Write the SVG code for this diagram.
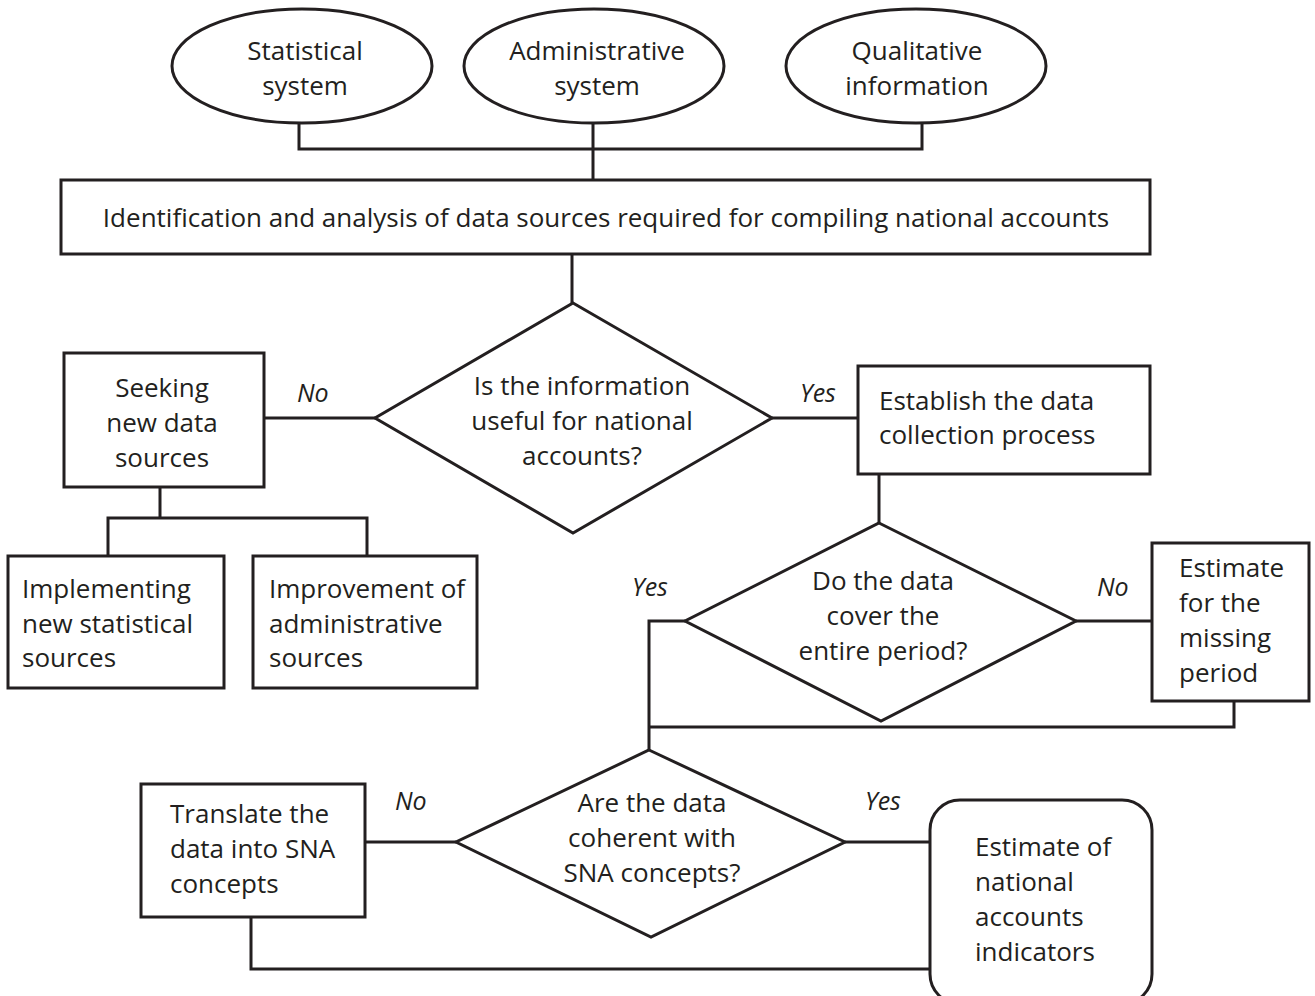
<svg xmlns="http://www.w3.org/2000/svg" width="1315" height="996" viewBox="0 0 1315 996">
<style>
.s{fill:#fff;stroke:#231f20;stroke-width:3}
.c{fill:none;stroke:#231f20;stroke-width:3}
text{font-family:"Open Sans","Liberation Sans",Arial,sans-serif;font-size:26px;fill:#231f20}
.m{text-anchor:middle}
.i{font-style:italic;font-size:25px}
</style>
<rect width="1315" height="996" fill="#fff"/>
<g id="connectors">
<polyline class="c" points="299,123 299,149 922,149 922,123"/>
<line class="c" x1="593" y1="123" x2="593" y2="180"/>
<line class="c" x1="572" y1="254" x2="572" y2="303"/>
<line class="c" x1="264" y1="418" x2="375" y2="418"/>
<line class="c" x1="772" y1="418" x2="858" y2="418"/>
<polyline class="c" points="160,487 160,518"/>
<polyline class="c" points="108,556 108,518 367,518 367,556"/>
<line class="c" x1="879" y1="474" x2="879" y2="523"/>
<line class="c" x1="1076" y1="621" x2="1152" y2="621"/>
<polyline class="c" points="685,621 649,621 649,750"/>
<polyline class="c" points="1234,701 1234,727 649,727"/>
<line class="c" x1="365" y1="842" x2="456" y2="842"/>
<line class="c" x1="845" y1="842" x2="930" y2="842"/>
<polyline class="c" points="251,917 251,969 930,969"/>
</g>
<g id="n-statistical">
<ellipse class="s" cx="302" cy="66" rx="130" ry="57"/>
<text class="m" x="305" y="60">Statistical</text>
<text class="m" x="305" y="95">system</text>
</g>
<g id="n-administrative">
<ellipse class="s" cx="594" cy="66" rx="130" ry="57"/>
<text class="m" x="597" y="60">Administrative</text>
<text class="m" x="597" y="95">system</text>
</g>
<g id="n-qualitative">
<ellipse class="s" cx="916" cy="66" rx="130" ry="57"/>
<text class="m" x="917" y="60">Qualitative</text>
<text class="m" x="917" y="95">information</text>
</g>
<g id="n-identification">
<rect class="s" x="61" y="180" width="1089" height="74"/>
<text class="m" x="606" y="227">Identification and analysis of data sources required for compiling national accounts</text>
</g>
<g id="n-useful">
<polygon class="s" points="573,303 772,418 573,533 375,418"/>
<text class="m" x="582" y="395">Is the information</text>
<text class="m" x="582" y="430">useful for national</text>
<text class="m" x="582" y="465">accounts?</text>
</g>
<g id="n-seeking">
<rect class="s" x="64" y="353" width="200" height="134"/>
<text class="m" x="162" y="397">Seeking</text>
<text class="m" x="162" y="432">new data</text>
<text class="m" x="162" y="467">sources</text>
</g>
<text class="i" x="297" y="402">No</text>
<text class="i" x="800" y="402">Yes</text>
<g id="n-implementing">
<rect class="s" x="8" y="556" width="216" height="132"/>
<text x="22" y="598">Implementing</text>
<text x="22" y="633">new statistical</text>
<text x="22" y="667">sources</text>
</g>
<g id="n-improvement">
<rect class="s" x="253" y="556" width="224" height="132"/>
<text x="269" y="598">Improvement of</text>
<text x="269" y="633">administrative</text>
<text x="269" y="667">sources</text>
</g>
<g id="n-establish">
<rect class="s" x="858" y="366" width="292" height="108"/>
<text x="879" y="410">Establish the data</text>
<text x="879" y="444">collection process</text>
</g>
<g id="n-cover">
<polygon class="s" points="879,523 1076,621 881,721 685,621"/>
<text class="m" x="883" y="590">Do the data</text>
<text class="m" x="883" y="625">cover the</text>
<text class="m" x="883" y="660">entire period?</text>
</g>
<text class="i" x="632" y="596">Yes</text>
<text class="i" x="1097" y="596">No</text>
<g id="n-estimate-missing">
<rect class="s" x="1152" y="543" width="157" height="158"/>
<text x="1179" y="577">Estimate</text>
<text x="1179" y="612">for the</text>
<text x="1179" y="647">missing</text>
<text x="1179" y="682">period</text>
</g>
<g id="n-coherent">
<polygon class="s" points="649,750 845,842 651,937 456,842"/>
<text class="m" x="652" y="812">Are the data</text>
<text class="m" x="652" y="847">coherent with</text>
<text class="m" x="652" y="882">SNA concepts?</text>
</g>
<text class="i" x="395" y="810">No</text>
<text class="i" x="865" y="810">Yes</text>
<g id="n-translate">
<rect class="s" x="141" y="784" width="224" height="133"/>
<text x="170" y="823">Translate the</text>
<text x="170" y="858">data into SNA</text>
<text x="170" y="893">concepts</text>
</g>
<g id="n-estimate-indicators">
<rect class="s" x="930" y="800" width="222" height="204" rx="30" ry="30"/>
<text x="975" y="856">Estimate of</text>
<text x="975" y="891">national</text>
<text x="975" y="926">accounts</text>
<text x="975" y="961">indicators</text>
</g>
</svg>
